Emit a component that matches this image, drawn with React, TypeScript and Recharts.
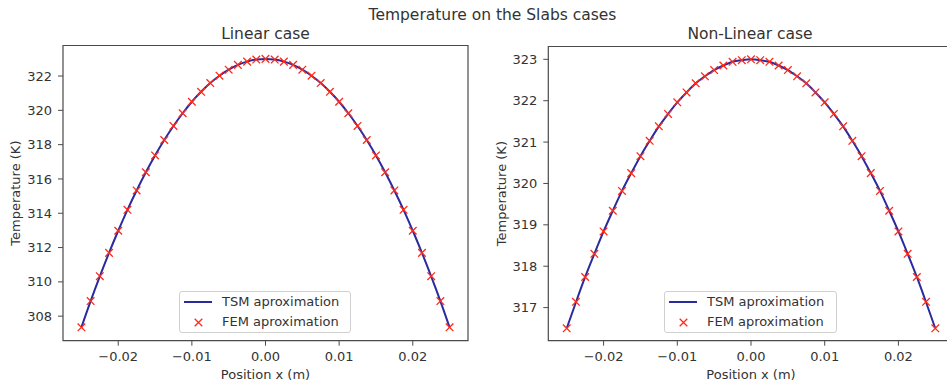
import React from "react";
import {ComposedChart, Label, Legend, Line, ReferenceArea, Scatter, XAxis, YAxis} from "recharts";

// positions of the nodes (m)
const positions = [
    -0.025, -0.02375, -0.0225, -0.02125, -0.02, -0.01875, -0.0175, -0.01625, -0.015, -0.01375,
    -0.0125, -0.01125, -0.01, -0.00875, -0.0075, -0.00625, -0.005, -0.00375, -0.0025, -0.00125,
    0,
    0.00125, 0.0025, 0.00375, 0.005, 0.00625, 0.0075, 0.00875, 0.01, 0.01125, 0.0125,
    0.01375, 0.015, 0.01625, 0.0175, 0.01875, 0.02, 0.02125, 0.0225, 0.02375, 0.025,
];

const linearTsm = [
    307.35, 308.88, 310.32, 311.69, 312.98, 314.20, 315.33, 316.39, 317.37, 318.27,
    319.09, 319.83, 320.50, 321.08, 321.59, 322.02, 322.37, 322.65, 322.84, 322.96,
    323.00,
    322.96, 322.84, 322.65, 322.37, 322.02, 321.59, 321.08, 320.50, 319.83, 319.09,
    318.27, 317.37, 316.39, 315.33, 314.20, 312.98, 311.69, 310.32, 308.88, 307.35,
];
const linearFem = [
    307.35, 308.88, 310.33, 311.69, 312.98, 314.20, 315.33, 316.39, 317.37, 318.27,
    319.09, 319.83, 320.50, 321.08, 321.59, 322.02, 322.37, 322.65, 322.84, 322.96,
    323.00,
    322.96, 322.84, 322.65, 322.37, 322.02, 321.59, 321.08, 320.50, 319.83, 319.09,
    318.27, 317.37, 316.39, 315.33, 314.20, 312.98, 311.69, 310.33, 308.88, 307.35,
];

const nonLinearTsm = [
    316.50, 317.13, 317.74, 318.30, 318.84, 319.34, 319.82, 320.25, 320.66, 321.03,
    321.38, 321.68, 321.96, 322.20, 322.42, 322.59, 322.74, 322.85, 322.94, 322.98,
    323.00,
    322.98, 322.94, 322.85, 322.74, 322.59, 322.42, 322.20, 321.96, 321.68, 321.38,
    321.03, 320.66, 320.25, 319.82, 319.34, 318.84, 318.30, 317.74, 317.13, 316.50,
];
const nonLinearFem = [
    316.50, 317.14, 317.74, 318.30, 318.84, 319.34, 319.82, 320.25, 320.66, 321.03,
    321.38, 321.68, 321.96, 322.20, 322.42, 322.59, 322.74, 322.85, 322.94, 322.98,
    323.00,
    322.98, 322.94, 322.85, 322.74, 322.59, 322.42, 322.20, 321.96, 321.68, 321.38,
    321.03, 320.66, 320.25, 319.82, 319.34, 318.84, 318.30, 317.74, 317.14, 316.50,
];

const xTicks = [-0.02, -0.01, 0, 0.01, 0.02];
const linearTicks = [308, 310, 312, 314, 316, 318, 320, 322];
const nonLinearTicks = [317, 318, 319, 320, 321, 322, 323];

const X_DOMAIN: [number, number] = [-0.0275, 0.0275];
const BLUE = "#2b2b9e";
const RED = "#ff2a1a";
const INK = "#333";
const SPINE = "#4a4a4a";

const fmtX = (v: number) => v.toFixed(2).replace("-", "\u2212");

const makeRows = (tsm: number[], fem: number[]) =>
    positions.map((x, i) => ({x, tsm: tsm[i], fem: fem[i]}));

const Cross = (props: any) => {
    const {cx, cy} = props;
    const s = 3.8;
    return (
        <path d={`M${cx - s},${cy - s}L${cx + s},${cy + s}M${cx - s},${cy + s}L${cx + s},${cy - s}`}
              stroke={RED} strokeWidth={1.3} fill="none"/>
    );
};

const LegendBox = ({width}: { width: number }) => (
    <div style={{
        width, height: 42, boxSizing: "border-box", border: "1px solid #d0d0d0", borderRadius: 3,
        background: "rgba(255,255,255,0.85)", fontSize: 13, color: INK, position: "relative",
    }}>
        <svg width={40} height={42} style={{position: "absolute", left: 0, top: 0}}>
            <line x1={4} x2={32} y1={10} y2={10} stroke={BLUE} strokeWidth={2}/>
            <Cross cx={18.5} cy={30.5}/>
        </svg>
        <div style={{position: "absolute", left: 42, top: 2, whiteSpace: "nowrap"}}>TSM aproximation</div>
        <div style={{position: "absolute", left: 42, top: 22, whiteSpace: "nowrap"}}>FEM aproximation</div>
    </div>
);

function Panel({left, data, yDomain, yTicks, margin, yWidth, labelOffset, legendLeft, legendWidth}: any) {
    return (
        <div style={{position: "absolute", left, top: 0}}>
            <ComposedChart width={480} height={387} data={data} margin={margin}>
                <XAxis dataKey="x" type="number" domain={X_DOMAIN} ticks={xTicks} tickFormatter={fmtX}
                       allowDataOverflow axisLine={false} tickSize={5} tickMargin={6.5} height={46.3}
                       tick={{fill: INK, fontSize: 13}} tickLine={{stroke: SPINE}}>
                    <Label value="Position x (m)" position="insideBottom" offset={8} fill={INK} fontSize={13}/>
                </XAxis>
                <YAxis type="number" domain={yDomain} ticks={yTicks} allowDataOverflow axisLine={false}
                       tickSize={5} tickMargin={6} width={yWidth} tick={{fill: INK, fontSize: 13}}
                       tickLine={{stroke: SPINE}}>
                    <Label value="Temperature (K)" angle={-90} position="insideLeft" offset={labelOffset}
                           fill={INK} fontSize={13} style={{textAnchor: "middle"}}/>
                </YAxis>
                <ReferenceArea x1={X_DOMAIN[0]} x2={X_DOMAIN[1]} y1={yDomain[0]} y2={yDomain[1]}
                               fill="none" stroke={SPINE} strokeWidth={1.2} fillOpacity={0}/>
                <Line type="monotone" dataKey="tsm" name="TSM aproximation" stroke={BLUE} strokeWidth={2}
                      dot={false} isAnimationActive={false}/>
                <Scatter dataKey="fem" name="FEM aproximation" fill={RED} shape={Cross}
                         isAnimationActive={false}/>
                <Legend layout="horizontal" verticalAlign="middle" align="center"
                        wrapperStyle={{left: legendLeft, top: 290.7, width: legendWidth}}
                        content={() => <LegendBox width={legendWidth}/>}/>
            </ComposedChart>
        </div>
    );
}

export default function App() {
    return (
        <div style={{
            position: "fixed", left: 0, top: 0, width: 947, height: 387, overflow: "hidden",
            background: "#fff", fontFamily: "'DejaVu Sans', sans-serif",
        }}>
            <Panel left={0} data={makeRows(linearTsm, linearFem)} yDomain={[306.57, 323.78]}
                   yTicks={linearTicks} margin={{top: 45.5, right: 12, bottom: 0, left: 0}} yWidth={63}
                   labelOffset={15} legendLeft={179} legendWidth={172}/>
            <Panel left={480} data={makeRows(nonLinearTsm, nonLinearFem)} yDomain={[316.2, 323.31]}
                   yTicks={nonLinearTicks} margin={{top: 46.5, right: 6.3, bottom: 0, left: 0}} yWidth={68.3}
                   labelOffset={21.5} legendLeft={184} legendWidth={173}/>
            <svg width={947} height={387} style={{position: "absolute", left: 0, top: 0, pointerEvents: "none"}}>
                <text x={492.5} y={20} textAnchor="middle" fontSize={15.5} fill={INK}>
                    Temperature on the Slabs cases
                </text>
                <text x={265.5} y={38.5} textAnchor="middle" fontSize={15.5} fill={INK}>Linear case</text>
                <text x={750} y={38.5} textAnchor="middle" fontSize={15.5} fill={INK}>Non-Linear case</text>
            </svg>
        </div>
    );
}
